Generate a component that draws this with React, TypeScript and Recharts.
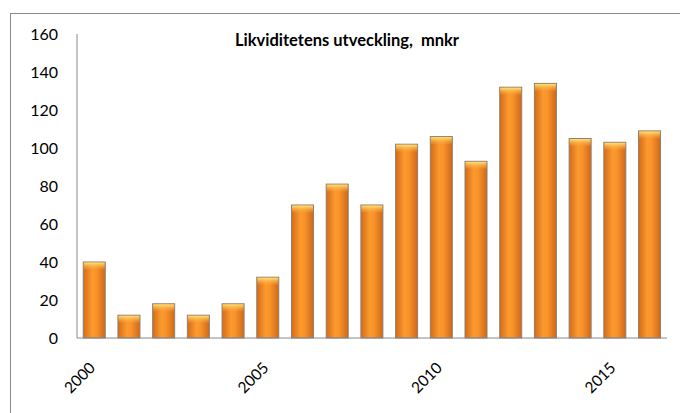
import { BarChart, Bar, XAxis, YAxis } from 'recharts';

const years = [
  '2000', '2001', '2002', '2003', '2004', '2005', '2006', '2007', '2008',
  '2009', '2010', '2011', '2012', '2013', '2014', '2015', '2016',
];
const liquidity = [40, 12, 18, 12, 18, 32, 70, 81, 70, 102, 106, 93, 132, 134, 105, 103, 109];
const yTicks = [0, 20, 40, 60, 80, 100, 120, 140, 160];

const data = years.map((year, i) => ({ year, value: liquidity[i] }));

const FONT = 'Lato, "Open Sans", sans-serif';

// stapel med gul topp
function CylinderBar(props: any) {
  const { x, y, width, height } = props;
  if (!height || height <= 0) return null;
  const cap = Math.min(7, height);
  return (
    <g>
      <rect x={x} y={y} width={width} height={height} fill="url(#barBody)" stroke="#8f7f70" strokeWidth={1} />
      <rect x={x + 0.5} y={y + 0.5} width={width - 1} height={cap} fill="url(#barCap)" />
    </g>
  );
}

// årtal snett under axeln
function YearTick(props: any) {
  const { x, y, payload } = props;
  const tx = x - 6;
  const ty = y + 7;
  return (
    <text
      x={tx}
      y={ty}
      dy="0.71em"
      textAnchor="end"
      transform={`rotate(-45, ${tx}, ${ty})`}
      style={{ fill: '#000', fontSize: 15.5, fontFamily: FONT }}
    >
      {payload.value}
    </text>
  );
}

export default function App() {
  return (
    <div
      style={{
        position: 'absolute',
        left: 0,
        top: 0,
        width: 680,
        height: 413,
        background: '#fff',
        overflow: 'hidden',
      }}
    >
      <div
        style={{
          position: 'absolute',
          left: 10,
          top: 13,
          width: 700,
          height: 420,
          border: '1px solid #8a8a8a',
        }}
      />
      <div style={{ position: 'absolute', left: 0, top: 0 }}>
        <BarChart
          width={680}
          height={413}
          data={data}
          margin={{ top: 34, right: 13, bottom: 45, left: 0 }}
          barCategoryGap="18%"
        >
          <defs>
            <linearGradient id="barBody" x1="0" y1="0" x2="1" y2="0">
              <stop offset="0%" stopColor="#d46a18" />
              <stop offset="40%" stopColor="#fb9a2e" />
              <stop offset="60%" stopColor="#f8932a" />
              <stop offset="100%" stopColor="#cf6818" />
            </linearGradient>
            <linearGradient id="barCap" x1="0" y1="0" x2="0" y2="1">
              <stop offset="0%" stopColor="#fde27a" />
              <stop offset="100%" stopColor="#f9a53a" stopOpacity={0.2} />
            </linearGradient>
          </defs>
          <text
            x={347}
            y={46}
            textAnchor="middle"
            style={{ fontFamily: FONT, fontWeight: 700, fontSize: 16.5, fill: '#000', whiteSpace: 'pre' }}
          >
            Likviditetens utveckling,  mnkr
          </text>
          <XAxis
            dataKey="year"
            height={30}
            interval={4}
            tickLine={false}
            axisLine={{ stroke: '#8a8a8a' }}
            tickMargin={10}
            tick={YearTick}
          />
          <YAxis
            width={77}
            domain={[0, 160]}
            ticks={yTicks}
            tickLine={false}
            axisLine={{ stroke: '#8a8a8a' }}
            tickMargin={13}
            tick={{ fill: '#000', fontSize: 16, fontFamily: FONT }}
          />
          <Bar dataKey="value" shape={CylinderBar} isAnimationActive={false} />
        </BarChart>
      </div>
    </div>
  );
}
